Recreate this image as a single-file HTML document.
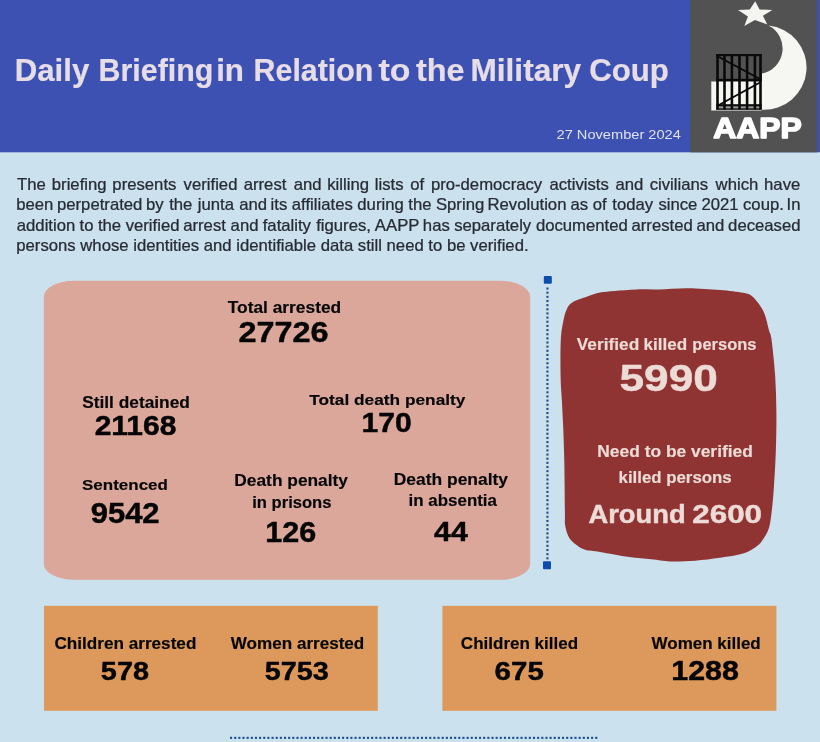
<!DOCTYPE html>
<html><head><meta charset="utf-8"><style>
html,body{margin:0;padding:0;background:#cce1ee;}
svg{display:block;will-change:transform;}
text{font-family:"Liberation Sans",sans-serif;}
</style></head><body>
<svg width="820" height="742" viewBox="0 0 820 742">
<rect x="0" y="0" width="820" height="742" fill="#cce1ee"/>
<rect x="0" y="0" width="820" height="152.3" fill="#3d51b2"/>

<rect x="690.5" y="0" width="126.5" height="152.3" fill="#525252"/>
<polygon points="755.2,1.3 759.6,9.5 772.4,9.9 762.9,15.7 767.3,24.5 754.9,20.1 744.3,26.0 747.9,16.5 738.0,9.9 749.8,9.5" fill="#f4f4f0"/>
<path d="M 768.5 25.43 A 42.27 42.27 0 0 1 761.7 109.68 L 761.7 110.6 L 711.3 110.6 L 711.3 81.5 L 762 81.5 L 762 73.5 A 25.66 25.66 0 0 0 768.5 25.43 Z" fill="#f6f6f2"/>
<rect x="716.2" y="106" width="45.5" height="2.6" fill="#9a9a9a"/>
<g fill="#0a0a0a">
<rect x="716.2" y="54" width="45.5" height="2.2"/>
<rect x="716.2" y="78.8" width="45.5" height="2.4"/>
<rect x="716.2" y="104.2" width="45.5" height="2.1"/>
<rect x="716.2" y="108.3" width="45.5" height="1.5"/>
<rect x="716.2" y="54" width="2.6" height="55.5"/><rect x="723.2" y="54" width="2.6" height="55.5"/><rect x="730.6" y="54" width="2.6" height="55.5"/><rect x="738.2" y="54" width="2.6" height="55.5"/><rect x="745.8" y="54" width="2.6" height="55.5"/><rect x="753.6" y="54" width="2.6" height="55.5"/><rect x="759.2" y="54" width="2.6" height="55.5"/>
<path d="M 717 55 L 760 78 L 760 80 L 717 57 Z"/>
<path d="M 717 105 L 760 81.5 L 760 83.5 L 717 107 Z"/>
</g>

<g font-size="15.8" fill="#272b33" stroke="#272b33" stroke-width="0.25" font-weight="normal">
<text transform="translate(17.04 189.50) scale(1.0572 1)">The</text>
<text transform="translate(51.82 189.50) scale(1.0572 1)">briefing</text>
<text transform="translate(112.34 189.50) scale(1.0572 1)">presents</text>
<text transform="translate(183.60 189.50) scale(1.0572 1)">verified</text>
<text transform="translate(243.71 189.50) scale(1.0572 1)">arrest</text>
<text transform="translate(293.66 189.50) scale(1.0572 1)">and</text>
<text transform="translate(327.27 189.50) scale(1.0572 1)">killing</text>
<text transform="translate(374.78 189.50) scale(1.0572 1)">lists</text>
<text transform="translate(410.22 189.50) scale(1.0572 1)">of</text>
<text transform="translate(430.88 189.50) scale(1.0572 1)">pro-democracy</text>
<text transform="translate(549.47 189.50) scale(1.0572 1)">activists</text>
<text transform="translate(615.55 189.50) scale(1.0572 1)">and</text>
<text transform="translate(649.68 189.50) scale(1.0572 1)">civilians</text>
<text transform="translate(715.61 189.50) scale(1.0572 1)">which</text>
<text transform="translate(764.06 189.50) scale(1.0572 1)">have</text>
<text transform="translate(16.26 210.00) scale(1.0572 1)">been</text>
<text transform="translate(56.99 210.00) scale(1.0572 1)">perpetrated</text>
<text transform="translate(145.99 210.00) scale(1.0572 1)">by</text>
<text transform="translate(169.19 210.00) scale(1.0572 1)">the</text>
<text transform="translate(197.81 210.00) scale(1.0572 1)">junta</text>
<text transform="translate(239.17 210.00) scale(1.0572 1)">and</text>
<text transform="translate(270.61 210.00) scale(1.0572 1)">its</text>
<text transform="translate(291.83 210.00) scale(1.0572 1)">affiliates</text>
<text transform="translate(357.31 210.00) scale(1.0572 1)">during</text>
<text transform="translate(408.36 210.00) scale(1.0572 1)">the</text>
<text transform="translate(435.94 210.00) scale(1.0572 1)">Spring</text>
<text transform="translate(487.53 210.00) scale(1.0572 1)">Revolution</text>
<text transform="translate(570.55 210.00) scale(1.0572 1)">as</text>
<text transform="translate(592.70 210.00) scale(1.0572 1)">of</text>
<text transform="translate(612.25 210.00) scale(1.0572 1)">today</text>
<text transform="translate(658.40 210.00) scale(1.0572 1)">since</text>
<text transform="translate(701.49 210.00) scale(1.0572 1)">2021</text>
<text transform="translate(743.01 210.00) scale(1.0572 1)">coup.</text>
<text transform="translate(786.61 210.00) scale(1.0572 1)">In</text>
<text transform="translate(16.78 230.70) scale(1.0572 1)">addition</text>
<text transform="translate(79.52 230.70) scale(1.0572 1)">to</text>
<text transform="translate(97.95 230.70) scale(1.0572 1)">the</text>
<text transform="translate(125.66 230.70) scale(1.0572 1)">verified</text>
<text transform="translate(183.22 230.70) scale(1.0572 1)">arrest</text>
<text transform="translate(230.62 230.70) scale(1.0572 1)">and</text>
<text transform="translate(262.72 230.70) scale(1.0572 1)">fatality</text>
<text transform="translate(316.17 230.70) scale(1.0572 1)">figures,</text>
<text transform="translate(374.87 230.70) scale(1.0572 1)">AAPP</text>
<text transform="translate(422.85 230.70) scale(1.0572 1)">has</text>
<text transform="translate(454.17 230.70) scale(1.0572 1)">separately</text>
<text transform="translate(535.89 230.70) scale(1.0572 1)">documented</text>
<text transform="translate(631.53 230.70) scale(1.0572 1)">arrested</text>
<text transform="translate(696.52 230.70) scale(1.0572 1)">and</text>
<text transform="translate(728.10 230.70) scale(1.0572 1)">deceased</text>
<text transform="translate(16.26 251.20) scale(1.0572 1)">persons whose identities and identifiable data still need to be verified.</text>
</g>
<rect x="43.8" y="280.8" width="486.4" height="299" rx="30" ry="16" fill="#dca79b"/>
<path d="M 658.5 289.4 C 667.03 289.20, 677.55 288.10, 687.8 288.2 C 698.05 288.30, 710.78 289.23, 720 290 C 729.22 290.77, 737.80 291.80, 743.1 292.8 C 748.40 293.80, 749.10 294.03, 751.8 296 C 754.50 297.97, 757.15 301.55, 759.3 304.6 C 761.45 307.65, 763.08 309.98, 764.7 314.3 C 766.32 318.62, 767.85 326.22, 769 330.5 C 770.15 334.78, 770.57 332.35, 771.6 340 C 772.63 347.65, 774.40 364.25, 775.2 376.4 C 776.00 388.55, 776.28 400.75, 776.4 412.9 C 776.52 425.05, 776.30 437.17, 775.9 449.3 C 775.50 461.43, 774.70 475.32, 774 485.7 C 773.30 496.08, 772.53 504.60, 771.7 511.6 C 770.87 518.60, 770.35 523.22, 769 527.7 C 767.65 532.18, 765.58 535.45, 763.6 538.5 C 761.62 541.55, 760.52 543.48, 757.1 546 C 753.68 548.52, 749.28 551.63, 743.1 553.6 C 736.92 555.57, 728.00 556.62, 720 557.8 C 712.00 558.98, 703.40 560.08, 695.1 560.7 C 686.80 561.32, 677.52 561.73, 670.2 561.5 C 662.88 561.27, 658.02 560.03, 651.2 559.3 C 644.38 558.57, 637.83 558.32, 629.3 557.1 C 620.77 555.88, 607.35 553.22, 600 552 C 592.65 550.78, 589.10 550.97, 585.2 549.8 C 581.30 548.63, 579.30 547.07, 576.6 545 C 573.90 542.93, 570.90 540.63, 569 537.4 C 567.10 534.17, 565.88 529.90, 565.2 525.6 C 564.52 521.30, 565.05 522.30, 564.9 511.6 C 564.75 500.90, 564.60 475.83, 564.3 461.4 C 564.00 446.97, 563.50 435.12, 563.1 425 C 562.70 414.88, 562.32 408.80, 561.9 400.7 C 561.48 392.60, 560.78 386.52, 560.6 376.4 C 560.42 366.28, 560.30 349.45, 560.8 340 C 561.30 330.55, 562.58 324.87, 563.6 319.7 C 564.62 314.53, 565.45 311.87, 566.9 309 C 568.35 306.13, 568.90 304.57, 572.3 302.5 C 575.70 300.43, 582.68 298.25, 587.3 296.6 C 591.92 294.95, 595.45 293.55, 600 292.6 C 604.55 291.65, 608.50 291.43, 614.6 290.9 C 620.70 290.37, 629.28 289.65, 636.6 289.4 C 643.92 289.15, 649.97 289.60, 658.5 289.4 Z" fill="#8f3433"/>
<g fill="#1a4d8f">
<rect x="543.8" y="276.1" width="8" height="7.6" rx="1" fill="#0b4cae"/>
<rect x="543" y="561.3" width="8" height="8" rx="1" fill="#0b4cae"/>
<rect x="546.40" y="287.50" width="2.1" height="2.1"/><rect x="546.40" y="291.65" width="2.1" height="2.1"/><rect x="546.40" y="295.80" width="2.1" height="2.1"/><rect x="546.40" y="299.95" width="2.1" height="2.1"/><rect x="546.40" y="304.10" width="2.1" height="2.1"/><rect x="546.40" y="308.25" width="2.1" height="2.1"/><rect x="546.40" y="312.40" width="2.1" height="2.1"/><rect x="546.40" y="316.55" width="2.1" height="2.1"/><rect x="546.40" y="320.70" width="2.1" height="2.1"/><rect x="546.40" y="324.85" width="2.1" height="2.1"/><rect x="546.40" y="329.00" width="2.1" height="2.1"/><rect x="546.40" y="333.15" width="2.1" height="2.1"/><rect x="546.40" y="337.30" width="2.1" height="2.1"/><rect x="546.40" y="341.45" width="2.1" height="2.1"/><rect x="546.40" y="345.60" width="2.1" height="2.1"/><rect x="546.40" y="349.75" width="2.1" height="2.1"/><rect x="546.40" y="353.90" width="2.1" height="2.1"/><rect x="546.40" y="358.05" width="2.1" height="2.1"/><rect x="546.40" y="362.20" width="2.1" height="2.1"/><rect x="546.40" y="366.35" width="2.1" height="2.1"/><rect x="546.40" y="370.50" width="2.1" height="2.1"/><rect x="546.40" y="374.65" width="2.1" height="2.1"/><rect x="546.40" y="378.80" width="2.1" height="2.1"/><rect x="546.40" y="382.95" width="2.1" height="2.1"/><rect x="546.40" y="387.10" width="2.1" height="2.1"/><rect x="546.40" y="391.25" width="2.1" height="2.1"/><rect x="546.40" y="395.40" width="2.1" height="2.1"/><rect x="546.40" y="399.55" width="2.1" height="2.1"/><rect x="546.40" y="403.70" width="2.1" height="2.1"/><rect x="546.40" y="407.85" width="2.1" height="2.1"/><rect x="546.40" y="412.00" width="2.1" height="2.1"/><rect x="546.40" y="416.15" width="2.1" height="2.1"/><rect x="546.40" y="420.30" width="2.1" height="2.1"/><rect x="546.40" y="424.45" width="2.1" height="2.1"/><rect x="546.40" y="428.60" width="2.1" height="2.1"/><rect x="546.40" y="432.75" width="2.1" height="2.1"/><rect x="546.40" y="436.90" width="2.1" height="2.1"/><rect x="546.40" y="441.05" width="2.1" height="2.1"/><rect x="546.40" y="445.20" width="2.1" height="2.1"/><rect x="546.40" y="449.35" width="2.1" height="2.1"/><rect x="546.40" y="453.50" width="2.1" height="2.1"/><rect x="546.40" y="457.65" width="2.1" height="2.1"/><rect x="546.40" y="461.80" width="2.1" height="2.1"/><rect x="546.40" y="465.95" width="2.1" height="2.1"/><rect x="546.40" y="470.10" width="2.1" height="2.1"/><rect x="546.40" y="474.25" width="2.1" height="2.1"/><rect x="546.40" y="478.40" width="2.1" height="2.1"/><rect x="546.40" y="482.55" width="2.1" height="2.1"/><rect x="546.40" y="486.70" width="2.1" height="2.1"/><rect x="546.40" y="490.85" width="2.1" height="2.1"/><rect x="546.40" y="495.00" width="2.1" height="2.1"/><rect x="546.40" y="499.15" width="2.1" height="2.1"/><rect x="546.40" y="503.30" width="2.1" height="2.1"/><rect x="546.40" y="507.45" width="2.1" height="2.1"/><rect x="546.40" y="511.60" width="2.1" height="2.1"/><rect x="546.40" y="515.75" width="2.1" height="2.1"/><rect x="546.40" y="519.90" width="2.1" height="2.1"/><rect x="546.40" y="524.05" width="2.1" height="2.1"/><rect x="546.40" y="528.20" width="2.1" height="2.1"/><rect x="546.40" y="532.35" width="2.1" height="2.1"/><rect x="546.40" y="536.50" width="2.1" height="2.1"/><rect x="546.40" y="540.65" width="2.1" height="2.1"/><rect x="546.40" y="544.80" width="2.1" height="2.1"/><rect x="546.40" y="548.95" width="2.1" height="2.1"/><rect x="546.40" y="553.10" width="2.1" height="2.1"/><rect x="546.40" y="557.25" width="2.1" height="2.1"/>
<rect x="230.00" y="736.80" width="2.1" height="2.1"/><rect x="234.15" y="736.80" width="2.1" height="2.1"/><rect x="238.30" y="736.80" width="2.1" height="2.1"/><rect x="242.45" y="736.80" width="2.1" height="2.1"/><rect x="246.60" y="736.80" width="2.1" height="2.1"/><rect x="250.75" y="736.80" width="2.1" height="2.1"/><rect x="254.90" y="736.80" width="2.1" height="2.1"/><rect x="259.05" y="736.80" width="2.1" height="2.1"/><rect x="263.20" y="736.80" width="2.1" height="2.1"/><rect x="267.35" y="736.80" width="2.1" height="2.1"/><rect x="271.50" y="736.80" width="2.1" height="2.1"/><rect x="275.65" y="736.80" width="2.1" height="2.1"/><rect x="279.80" y="736.80" width="2.1" height="2.1"/><rect x="283.95" y="736.80" width="2.1" height="2.1"/><rect x="288.10" y="736.80" width="2.1" height="2.1"/><rect x="292.25" y="736.80" width="2.1" height="2.1"/><rect x="296.40" y="736.80" width="2.1" height="2.1"/><rect x="300.55" y="736.80" width="2.1" height="2.1"/><rect x="304.70" y="736.80" width="2.1" height="2.1"/><rect x="308.85" y="736.80" width="2.1" height="2.1"/><rect x="313.00" y="736.80" width="2.1" height="2.1"/><rect x="317.15" y="736.80" width="2.1" height="2.1"/><rect x="321.30" y="736.80" width="2.1" height="2.1"/><rect x="325.45" y="736.80" width="2.1" height="2.1"/><rect x="329.60" y="736.80" width="2.1" height="2.1"/><rect x="333.75" y="736.80" width="2.1" height="2.1"/><rect x="337.90" y="736.80" width="2.1" height="2.1"/><rect x="342.05" y="736.80" width="2.1" height="2.1"/><rect x="346.20" y="736.80" width="2.1" height="2.1"/><rect x="350.35" y="736.80" width="2.1" height="2.1"/><rect x="354.50" y="736.80" width="2.1" height="2.1"/><rect x="358.65" y="736.80" width="2.1" height="2.1"/><rect x="362.80" y="736.80" width="2.1" height="2.1"/><rect x="366.95" y="736.80" width="2.1" height="2.1"/><rect x="371.10" y="736.80" width="2.1" height="2.1"/><rect x="375.25" y="736.80" width="2.1" height="2.1"/><rect x="379.40" y="736.80" width="2.1" height="2.1"/><rect x="383.55" y="736.80" width="2.1" height="2.1"/><rect x="387.70" y="736.80" width="2.1" height="2.1"/><rect x="391.85" y="736.80" width="2.1" height="2.1"/><rect x="396.00" y="736.80" width="2.1" height="2.1"/><rect x="400.15" y="736.80" width="2.1" height="2.1"/><rect x="404.30" y="736.80" width="2.1" height="2.1"/><rect x="408.45" y="736.80" width="2.1" height="2.1"/><rect x="412.60" y="736.80" width="2.1" height="2.1"/><rect x="416.75" y="736.80" width="2.1" height="2.1"/><rect x="420.90" y="736.80" width="2.1" height="2.1"/><rect x="425.05" y="736.80" width="2.1" height="2.1"/><rect x="429.20" y="736.80" width="2.1" height="2.1"/><rect x="433.35" y="736.80" width="2.1" height="2.1"/><rect x="437.50" y="736.80" width="2.1" height="2.1"/><rect x="441.65" y="736.80" width="2.1" height="2.1"/><rect x="445.80" y="736.80" width="2.1" height="2.1"/><rect x="449.95" y="736.80" width="2.1" height="2.1"/><rect x="454.10" y="736.80" width="2.1" height="2.1"/><rect x="458.25" y="736.80" width="2.1" height="2.1"/><rect x="462.40" y="736.80" width="2.1" height="2.1"/><rect x="466.55" y="736.80" width="2.1" height="2.1"/><rect x="470.70" y="736.80" width="2.1" height="2.1"/><rect x="474.85" y="736.80" width="2.1" height="2.1"/><rect x="479.00" y="736.80" width="2.1" height="2.1"/><rect x="483.15" y="736.80" width="2.1" height="2.1"/><rect x="487.30" y="736.80" width="2.1" height="2.1"/><rect x="491.45" y="736.80" width="2.1" height="2.1"/><rect x="495.60" y="736.80" width="2.1" height="2.1"/><rect x="499.75" y="736.80" width="2.1" height="2.1"/><rect x="503.90" y="736.80" width="2.1" height="2.1"/><rect x="508.05" y="736.80" width="2.1" height="2.1"/><rect x="512.20" y="736.80" width="2.1" height="2.1"/><rect x="516.35" y="736.80" width="2.1" height="2.1"/><rect x="520.50" y="736.80" width="2.1" height="2.1"/><rect x="524.65" y="736.80" width="2.1" height="2.1"/><rect x="528.80" y="736.80" width="2.1" height="2.1"/><rect x="532.95" y="736.80" width="2.1" height="2.1"/><rect x="537.10" y="736.80" width="2.1" height="2.1"/><rect x="541.25" y="736.80" width="2.1" height="2.1"/><rect x="545.40" y="736.80" width="2.1" height="2.1"/><rect x="549.55" y="736.80" width="2.1" height="2.1"/><rect x="553.70" y="736.80" width="2.1" height="2.1"/><rect x="557.85" y="736.80" width="2.1" height="2.1"/><rect x="562.00" y="736.80" width="2.1" height="2.1"/><rect x="566.15" y="736.80" width="2.1" height="2.1"/><rect x="570.30" y="736.80" width="2.1" height="2.1"/><rect x="574.45" y="736.80" width="2.1" height="2.1"/><rect x="578.60" y="736.80" width="2.1" height="2.1"/><rect x="582.75" y="736.80" width="2.1" height="2.1"/><rect x="586.90" y="736.80" width="2.1" height="2.1"/><rect x="591.05" y="736.80" width="2.1" height="2.1"/><rect x="595.20" y="736.80" width="2.1" height="2.1"/>
</g>
<rect x="44" y="605.8" width="333.8" height="105" fill="#dd995b"/>
<rect x="442.4" y="605.8" width="334" height="105" fill="#dd995b"/>
<text transform="translate(14.75 81.30) scale(0.9747 1)" font-size="32.00" font-weight="bold" fill="#e6dde7" stroke="#e6dde7" stroke-width="0.2" stroke-linejoin="round">Daily</text>
<text transform="translate(98.50 81.30) scale(0.9508 1)" font-size="32.00" font-weight="bold" fill="#e6dde7" stroke="#e6dde7" stroke-width="0.2" stroke-linejoin="round">Briefing</text>
<text transform="translate(216.14 81.30) scale(0.9803 1)" font-size="32.00" font-weight="bold" fill="#e6dde7" stroke="#e6dde7" stroke-width="0.2" stroke-linejoin="round">in</text>
<text transform="translate(253.60 81.30) scale(0.9488 1)" font-size="32.00" font-weight="bold" fill="#e6dde7" stroke="#e6dde7" stroke-width="0.2" stroke-linejoin="round">Relation</text>
<text transform="translate(378.50 81.30) scale(1.0564 1)" font-size="32.00" font-weight="bold" fill="#e6dde7" stroke="#e6dde7" stroke-width="0.2" stroke-linejoin="round">to</text>
<text transform="translate(415.90 81.30) scale(1.0126 1)" font-size="32.00" font-weight="bold" fill="#e6dde7" stroke="#e6dde7" stroke-width="0.2" stroke-linejoin="round">the</text>
<text transform="translate(470.42 81.30) scale(0.9888 1)" font-size="32.00" font-weight="bold" fill="#e6dde7" stroke="#e6dde7" stroke-width="0.2" stroke-linejoin="round">Military</text>
<text transform="translate(589.13 81.30) scale(0.9749 1)" font-size="32.00" font-weight="bold" fill="#e6dde7" stroke="#e6dde7" stroke-width="0.2" stroke-linejoin="round">Coup</text>
<text transform="translate(556.51 138.90) scale(1.0945 1)" font-size="13.37" font-weight="normal" fill="#dfe0ef">27 November 2024</text>
<text transform="translate(713.20 137.90) scale(1.0877 1)" font-size="29.30" font-weight="bold" fill="#ffffff" stroke="#ffffff" stroke-width="1.6" stroke-linejoin="round">AAPP</text>
<text transform="translate(576.78 349.53) scale(1.0919 1)" font-size="15.86" font-weight="bold" fill="#eddbd6" stroke="#eddbd6" stroke-width="0.15" stroke-linejoin="round">Verified</text>
<text transform="translate(643.61 349.53) scale(1.0782 1)" font-size="15.86" font-weight="bold" fill="#eddbd6" stroke="#eddbd6" stroke-width="0.15" stroke-linejoin="round">killed</text>
<text transform="translate(692.34 349.53) scale(1.0399 1)" font-size="15.86" font-weight="bold" fill="#eddbd6" stroke="#eddbd6" stroke-width="0.15" stroke-linejoin="round">persons</text>
<text transform="translate(619.53 390.67) scale(1.1750 1)" font-size="37.62" font-weight="bold" fill="#eddbd6" stroke="#eddbd6" stroke-width="0.45" stroke-linejoin="round">5990</text>
<text transform="translate(597.29 457.32) scale(1.0880 1)" font-size="16.00" font-weight="bold" fill="#eddbd6" stroke="#eddbd6" stroke-width="0.15" stroke-linejoin="round">Need to be verified</text>
<text transform="translate(618.52 482.53) scale(1.0529 1)" font-size="16.00" font-weight="bold" fill="#eddbd6" stroke="#eddbd6" stroke-width="0.15" stroke-linejoin="round">killed persons</text>
<text transform="translate(588.50 522.98) scale(1.0885 1)" font-size="25.10" font-weight="bold" fill="#eddbd6" stroke="#eddbd6" stroke-width="0.45" stroke-linejoin="round">Around</text>
<text transform="translate(692.24 522.98) scale(1.2360 1)" font-size="25.39" font-weight="bold" fill="#eddbd6" stroke="#eddbd6" stroke-width="0.45" stroke-linejoin="round">2600</text>
<text transform="translate(227.77 313.32) scale(1.0749 1)" font-size="16.14" font-weight="bold" fill="#050505" stroke="#050505" stroke-width="0.15" stroke-linejoin="round">Total arrested</text>
<text transform="translate(238.51 341.88) scale(1.1029 1)" font-size="29.37" font-weight="bold" fill="#050505" stroke="#050505" stroke-width="0.45" stroke-linejoin="round">27726</text>
<text transform="translate(82.20 407.93) scale(1.1116 1)" font-size="15.57" font-weight="bold" fill="#050505" stroke="#050505" stroke-width="0.15" stroke-linejoin="round">Still detained</text>
<text transform="translate(94.69 435.17) scale(1.1068 1)" font-size="27.09" font-weight="bold" fill="#050505" stroke="#050505" stroke-width="0.45" stroke-linejoin="round">21168</text>
<text transform="translate(309.27 404.73) scale(1.1203 1)" font-size="15.43" font-weight="bold" fill="#050505" stroke="#050505" stroke-width="0.15" stroke-linejoin="round">Total death penalty</text>
<text transform="translate(361.54 431.97) scale(1.0945 1)" font-size="27.52" font-weight="bold" fill="#050505" stroke="#050505" stroke-width="0.45" stroke-linejoin="round">170</text>
<text transform="translate(82.01 489.93) scale(1.1021 1)" font-size="15.43" font-weight="bold" fill="#050505" stroke="#050505" stroke-width="0.15" stroke-linejoin="round">Sentenced</text>
<text transform="translate(90.66 523.48) scale(1.0768 1)" font-size="28.80" font-weight="bold" fill="#050505" stroke="#050505" stroke-width="0.45" stroke-linejoin="round">9542</text>
<text transform="translate(234.29 486.03) scale(1.0947 1)" font-size="15.86" font-weight="bold" fill="#050505" stroke="#050505" stroke-width="0.15" stroke-linejoin="round">Death penalty</text>
<text transform="translate(252.24 507.73) scale(1.0460 1)" font-size="15.86" font-weight="bold" fill="#050505" stroke="#050505" stroke-width="0.15" stroke-linejoin="round">in prisons</text>
<text transform="translate(265.32 541.67) scale(1.0649 1)" font-size="28.66" font-weight="bold" fill="#050505" stroke="#050505" stroke-width="0.45" stroke-linejoin="round">126</text>
<text transform="translate(393.79 484.73) scale(1.1196 1)" font-size="15.57" font-weight="bold" fill="#050505" stroke="#050505" stroke-width="0.15" stroke-linejoin="round">Death penalty</text>
<text transform="translate(408.62 506.43) scale(1.0867 1)" font-size="15.57" font-weight="bold" fill="#050505" stroke="#050505" stroke-width="0.15" stroke-linejoin="round">in absentia</text>
<text transform="translate(434.03 540.57) scale(1.0915 1)" font-size="27.80" font-weight="bold" fill="#050505" stroke="#050505" stroke-width="0.45" stroke-linejoin="round">44</text>
<text transform="translate(54.44 649.42) scale(1.0439 1)" font-size="16.43" font-weight="bold" fill="#050505" stroke="#050505" stroke-width="0.15" stroke-linejoin="round">Children arrested</text>
<text transform="translate(100.87 679.77) scale(1.0932 1)" font-size="26.38" font-weight="bold" fill="#050505" stroke="#050505" stroke-width="0.45" stroke-linejoin="round">578</text>
<text transform="translate(230.77 649.42) scale(1.0407 1)" font-size="16.43" font-weight="bold" fill="#050505" stroke="#050505" stroke-width="0.15" stroke-linejoin="round">Women arrested</text>
<text transform="translate(264.67 679.77) scale(1.0925 1)" font-size="26.38" font-weight="bold" fill="#050505" stroke="#050505" stroke-width="0.45" stroke-linejoin="round">5753</text>
<text transform="translate(460.84 649.42) scale(1.0370 1)" font-size="16.43" font-weight="bold" fill="#050505" stroke="#050505" stroke-width="0.15" stroke-linejoin="round">Children killed</text>
<text transform="translate(494.60 679.77) scale(1.1179 1)" font-size="26.38" font-weight="bold" fill="#050505" stroke="#050505" stroke-width="0.45" stroke-linejoin="round">675</text>
<text transform="translate(651.58 649.42) scale(1.0347 1)" font-size="16.43" font-weight="bold" fill="#050505" stroke="#050505" stroke-width="0.15" stroke-linejoin="round">Women killed</text>
<text transform="translate(671.23 680.07) scale(1.1043 1)" font-size="27.52" font-weight="bold" fill="#050505" stroke="#050505" stroke-width="0.45" stroke-linejoin="round">1288</text>
</svg>
</body></html>
